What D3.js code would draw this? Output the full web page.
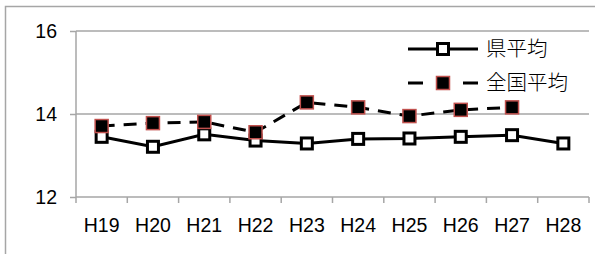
<!DOCTYPE html>
<html>
<head>
<meta charset="utf-8">
<script src="https://cdn.jsdelivr.net/npm/d3@7"></script>
<style>
  body { margin: 0; background: #fff; }
</style>
</head>
<body>
<div id="graph"></div>
<script>
var years = ["H19", "H20", "H21", "H22", "H23", "H24", "H25", "H26", "H27", "H28"];
var prefAvg = [13.45, 13.21, 13.51, 13.36, 13.29, 13.40, 13.41, 13.45, 13.49, 13.29];
var natAvg = [13.71, 13.78, 13.81, 13.56, 14.28, 14.16, 13.95, 14.10, 14.16];
var yTicks = [12, 14, 16];
var seriesNames = ["県平均", "全国平均"];

var svgWidth = 595, svgHeight = 254;
var margin = { top: 31, right: 6, bottom: 57, left: 76 };
var width = svgWidth - margin.left - margin.right;
var height = svgHeight - margin.top - margin.bottom;
var grey = "#a6a6a6";

var svg = d3.select("#graph")
  .append("svg")
    .attr("width", svgWidth)
    .attr("height", svgHeight);

// outer chart frame
svg.append("rect")
    .attr("x", 5.5).attr("y", 6.5)
    .attr("width", 600).attr("height", 260)
    .attr("fill", "none")
    .attr("stroke", grey)
    .attr("stroke-width", 1.5);

var g = svg.append("g")
    .attr("transform", "translate(" + margin.left + "," + margin.top + ")");

var x = d3.scaleBand().domain(years).range([0, width]);
var y = d3.scaleLinear().domain([12, 16]).range([height, 0]);
var cx = function(d, i) { return x(years[i]) + x.bandwidth() / 2; };

// gridlines
g.selectAll(".grid")
  .data(yTicks.filter(function(t) { return t > 12; }))
  .enter().append("line")
    .attr("x1", 0).attr("x2", width)
    .attr("y1", function(d) { return y(d); })
    .attr("y2", function(d) { return y(d); })
    .attr("stroke", grey)
    .attr("stroke-width", 1.5);

// y axis
var yAxis = g.append("g")
    .call(d3.axisLeft(y).tickValues(yTicks).tickFormat(d3.format("d")).tickSize(6).tickPadding(13));
yAxis.selectAll("text")
    .style("font-family", "'Liberation Sans', Arial, sans-serif")
    .style("font-size", "19.5px").attr("fill", "#000");

// x axis with ticks at category boundaries
var xAxis = g.append("g")
    .attr("transform", "translate(0," + height + ")")
    .call(d3.axisBottom(x).tickSize(0).tickPadding(21));
xAxis.selectAll("text")
    .style("font-family", "'Liberation Sans', Arial, sans-serif")
    .style("font-size", "19.5px").attr("fill", "#000");
xAxis.selectAll(".bound")
  .data(d3.range(years.length + 1))
  .enter().append("line")
    .attr("x1", function(i) { return i * x.bandwidth(); })
    .attr("x2", function(i) { return i * x.bandwidth(); })
    .attr("y1", 0).attr("y2", 6)
    .attr("stroke", grey).attr("stroke-width", 1.5);

svg.selectAll(".domain, .tick line").attr("stroke", grey).attr("stroke-width", 1.5);
xAxis.select(".domain").attr("d", "M0,0H" + width);
yAxis.select(".domain").attr("d", "M0," + height + "V0");

var line = d3.line()
    .x(cx)
    .y(function(d) { return y(d); });

// national average (dashed, filled markers)
g.append("path")
    .datum(natAvg)
    .attr("fill", "none")
    .attr("stroke", "#000")
    .attr("stroke-width", 3)
    .attr("stroke-dasharray", "13,9")
    .attr("d", line);

// prefecture average (solid, open markers)
g.append("path")
    .datum(prefAvg)
    .attr("fill", "none")
    .attr("stroke", "#000")
    .attr("stroke-width", 3)
    .attr("d", line);

var ms = 11;
g.selectAll(".pref")
  .data(prefAvg)
  .enter().append("rect")
    .attr("x", function(d, i) { return cx(d, i) - ms / 2; })
    .attr("y", function(d) { return y(d) - ms / 2; })
    .attr("width", ms).attr("height", ms)
    .attr("fill", "#fff").attr("stroke", "#000").attr("stroke-width", 3);

g.selectAll(".nat")
  .data(natAvg)
  .enter().append("rect")
    .attr("x", function(d, i) { return cx(d, i) - 6.5; })
    .attr("y", function(d) { return y(d) - 6.5; })
    .attr("width", 13).attr("height", 13)
    .attr("fill", "#000").attr("stroke", "#c0504d").attr("stroke-width", 1.5);

// legend
var legend = svg.append("g");
var rows = [49, 83];
legend.append("line")
    .attr("x1", 408).attr("x2", 478).attr("y1", rows[0]).attr("y2", rows[0])
    .attr("stroke", "#000").attr("stroke-width", 3);
legend.append("rect")
    .attr("x", 443 - ms / 2).attr("y", rows[0] - ms / 2)
    .attr("width", ms).attr("height", ms)
    .attr("fill", "#fff").attr("stroke", "#000").attr("stroke-width", 3);
legend.append("line")
    .attr("x1", 408).attr("x2", 478).attr("y1", rows[1]).attr("y2", rows[1])
    .attr("stroke", "#000").attr("stroke-width", 3)
    .attr("stroke-dasharray", "15,40");
legend.append("rect")
    .attr("x", 443 - 6.5).attr("y", rows[1] - 6.5)
    .attr("width", 13).attr("height", 13)
    .attr("fill", "#000").attr("stroke", "#c0504d").attr("stroke-width", 1.5);
legend.selectAll(".lt")
  .data(seriesNames)
  .enter().append("text")
    .attr("x", 486)
    .attr("y", function(d, i) { return rows[i]; })
    .attr("dy", "0.36em")
    .style("font-family", "'Noto Sans CJK JP', sans-serif")
    .style("font-size", "20.5px")
    .style("font-weight", 300)
    .attr("fill", "#000")
    .text(function(d) { return d; });
</script>
</body>
</html>
